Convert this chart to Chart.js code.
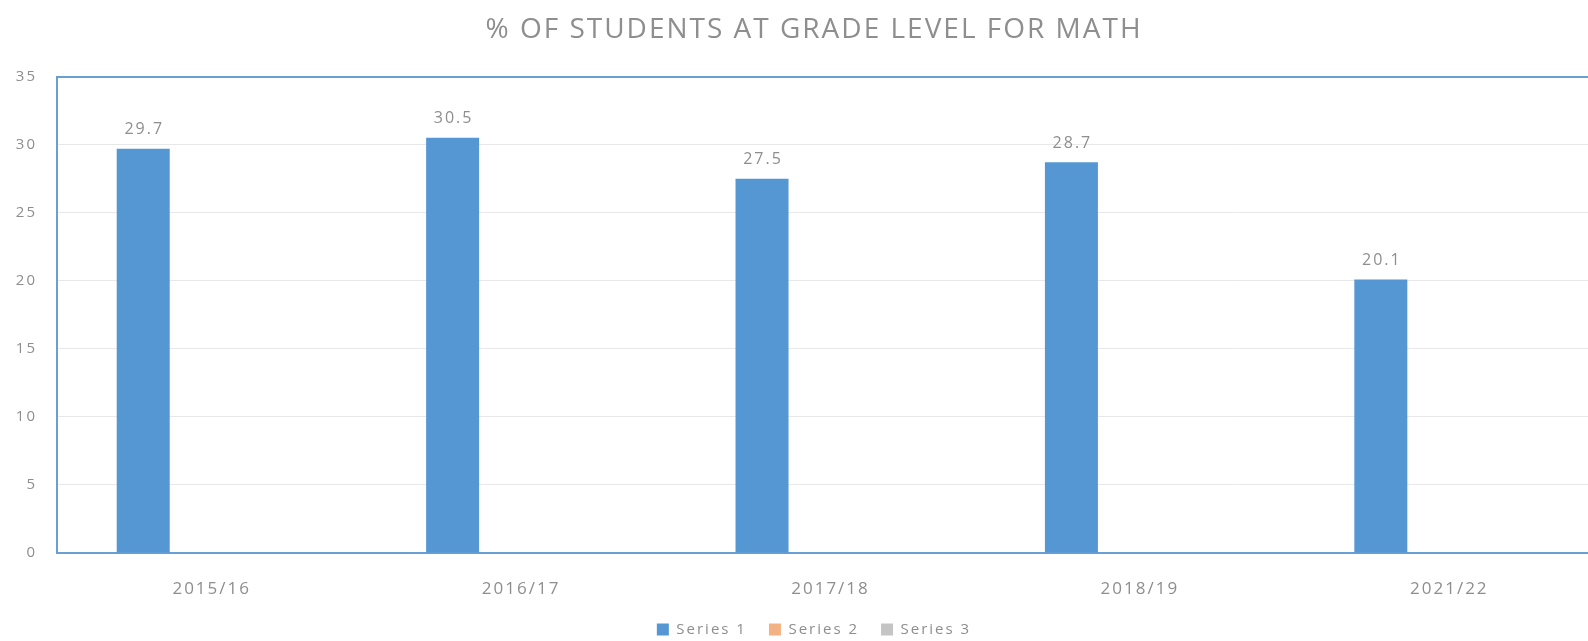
<!DOCTYPE html>
<html>
<head>
<meta charset="utf-8">
<script src="https://cdn.jsdelivr.net/npm/chart.js@4"></script>
<style>
  html, body { margin: 0; padding: 0; background: #fff; overflow: hidden; }
  #wrap { width: 1628px; height: 647px; }
</style>
</head>
<body>
<div id="wrap"><canvas id="myChart" width="1628" height="647"></canvas></div>
<script>
var anios = ['2015/16', '2016/17', '2017/18', '2018/19', '2021/22'];
var serie1 = [29.7, 30.5, 27.5, 28.7, 20.1];
var serie2 = [null, null, null, null, null];
var serie3 = [null, null, null, null, null];
var nombres = ['Series 1', 'Series 2', 'Series 3'];
var colores = ['#5597d3', '#f4b183', '#c4c4c4'];
var gris = '#8e8e8e';
var azul = '#6a9fd4';
var anchoEjeX = 1547; // el area del grafico sigue a la derecha, recortada

// el escaneo tiene las letras separadas
var espaciado = {
    id: 'espaciado',
    beforeLayout: function (chart) { chart.ctx.letterSpacing = '2px'; },
    beforeDraw: function (chart) { chart.ctx.letterSpacing = '2px'; }
};

// el eje x es mas corto que el lienzo: titulo y leyenda quedan centrados en todo el ancho
var ejeCorto = {
    id: 'ejeCorto',
    afterLayout: function (chart) {
        var x = chart.scales.x;
        x.right = x.left + anchoEjeX;
        x.width = anchoEjeX;
        x.configure();
    }
};

// etiquetas encima de las barras (solo serie 1)
var etiquetas = {
    id: 'etiquetas',
    afterDatasetsDraw: function (chart) {
        var ctx = chart.ctx;
        var meta = chart.getDatasetMeta(0);
        ctx.save();
        ctx.fillStyle = gris;
        ctx.font = '16px "Open Sans"';
        ctx.textAlign = 'center';
        ctx.textBaseline = 'middle';
        meta.data.forEach(function (bar, i) {
            ctx.fillText(serie1[i].toFixed(1), bar.x + 1, bar.y - 19);
        });
        ctx.restore();
    }
};

var ctx = document.getElementById('myChart').getContext('2d');
var myChart = new Chart(ctx, {
    type: 'bar',
    data: {
        labels: anios,
        datasets: [
            { label: nombres[0], data: serie1, backgroundColor: colores[0] },
            { label: nombres[1], data: serie2, backgroundColor: colores[1] },
            { label: nombres[2], data: serie3, backgroundColor: colores[2] }
        ]
    },
    options: {
        responsive: false,
        animation: false,
        categoryPercentage: 0.664,
        barPercentage: 0.774,
        layout: { padding: 0 },
        plugins: {
            title: {
                display: true,
                text: '% OF STUDENTS AT GRADE LEVEL FOR MATH',
                color: gris,
                font: { family: '"Open Sans"', size: 28, weight: 'normal' },
                padding: { top: 13, bottom: 30 }
            },
            legend: {
                position: 'bottom',
                labels: {
                    color: gris,
                    font: { family: '"Open Sans"', size: 15 },
                    boxWidth: 12,
                    boxHeight: 12,
                    padding: 22
                }
            },
            tooltip: { enabled: false }
        },
        scales: {
            x: {
                grid: { display: false },
                border: { color: azul, width: 2 },
                ticks: { color: gris, font: { family: '"Open Sans"', size: 17 }, padding: 18 },
                afterFit: function (scale) { scale.height = 47; }
            },
            y: {
                min: 0,
                max: 35,
                ticks: { stepSize: 5, color: gris, font: { family: '"Open Sans"', size: 15 }, padding: 20 },
                border: { color: azul, width: 2 },
                grid: {
                    drawTicks: false,
                    color: function (c) { return c.tick && c.tick.value === 35 ? azul : '#e8e8e8'; },
                    lineWidth: function (c) { return c.tick && c.tick.value === 35 ? 2 : 1; }
                },
                afterFit: function (scale) { scale.width = 57; }
            }
        }
    },
    plugins: [espaciado, ejeCorto, etiquetas]
});
</script>
</body>
</html>
